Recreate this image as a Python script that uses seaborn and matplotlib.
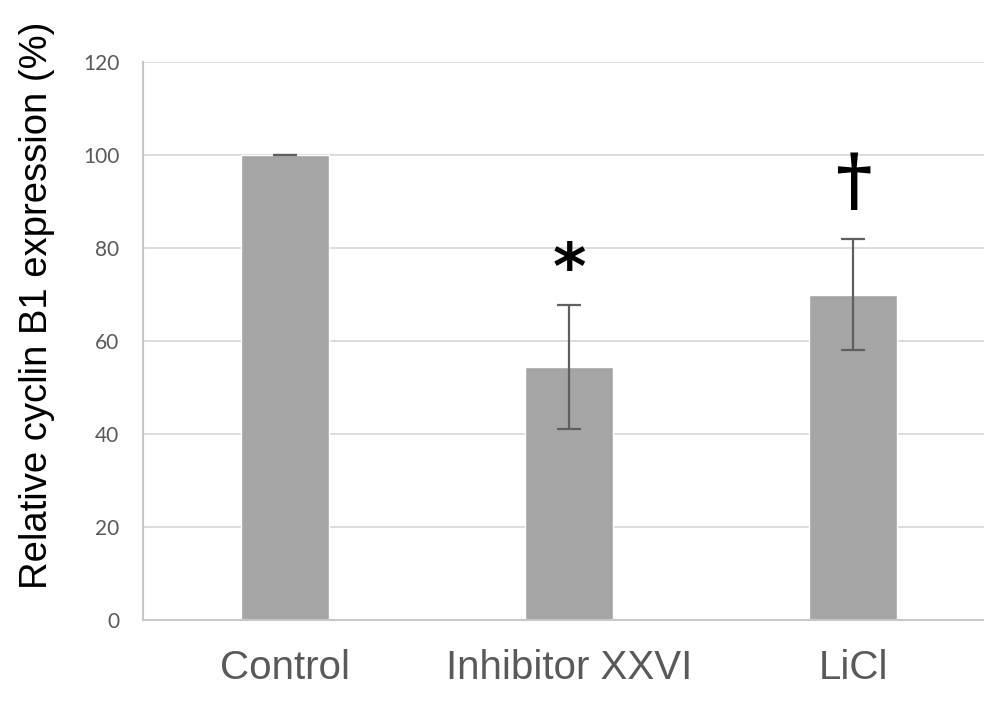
import matplotlib
matplotlib.use("Agg")
import matplotlib.pyplot as plt
import seaborn as sns
import pandas as pd

# Data
groups = ["Control", "Inhibitor XXVI", "LiCl"]
expression = [100.0, 54.4, 70.0]
sem = [0.0, 13.3, 12.0]
marks = ["", "*", "\u2020"]
mark_y = [None, 75.0, 94.0]

df = pd.DataFrame({"group": groups, "expression": expression})

sns.set_style("white")
plt.rcParams["font.family"] = ["Liberation Sans", "DejaVu Sans"]

fig = plt.figure(figsize=(9.84, 7.02), dpi=100)
ax = fig.add_axes([0.1453, 0.1168, 0.8547, 0.7944])

sns.barplot(data=df, x="group", y="expression", color="#a5a5a5",
            width=0.31, saturation=1, errorbar=None, ax=ax, zorder=2)
ax.errorbar(range(len(groups)), expression, yerr=sem, fmt="none",
            ecolor="#5f5f5f", elinewidth=1.6, capsize=8.5, capthick=1.6, zorder=3)

# significance marks
for i, (m, yv) in enumerate(zip(marks, mark_y)):
    if m == "*":
        ax.text(i, yv, m, ha="center", va="center", fontsize=46,
                fontweight="bold", family="DejaVu Sans", color="black")
    elif m:
        ax.text(i, yv, m, ha="center", va="center", fontsize=50,
                fontweight="bold", family="DejaVu Serif", color="black")

ax.set_ylim(0, 120)
ax.set_xlim(-0.5, 2.461)
ax.set_yticks(range(0, 121, 20))
ax.yaxis.grid(True, color="#d9d9d9", linewidth=1.3, zorder=0)
ax.set_axisbelow(True)

for s in ["top", "right"]:
    ax.spines[s].set_visible(False)
for s in ["left", "bottom"]:
    ax.spines[s].set_color("#c8c8c8")
    ax.spines[s].set_linewidth(1.5)

ax.tick_params(axis="y", length=0, pad=17, labelsize=15, labelcolor="#595959")
for lab in ax.get_yticklabels():
    lab.set_family(["Lato", "DejaVu Sans"])
ax.tick_params(axis="x", length=0, pad=21, labelsize=29, labelcolor="#595959")

ax.set_xlabel("")
ax.set_ylabel("Relative cyclin B1 expression (%)", fontsize=27.5, color="black")
ax.yaxis.set_label_coords(-0.105, 0.565)

fig.savefig("out.png", dpi=100)
